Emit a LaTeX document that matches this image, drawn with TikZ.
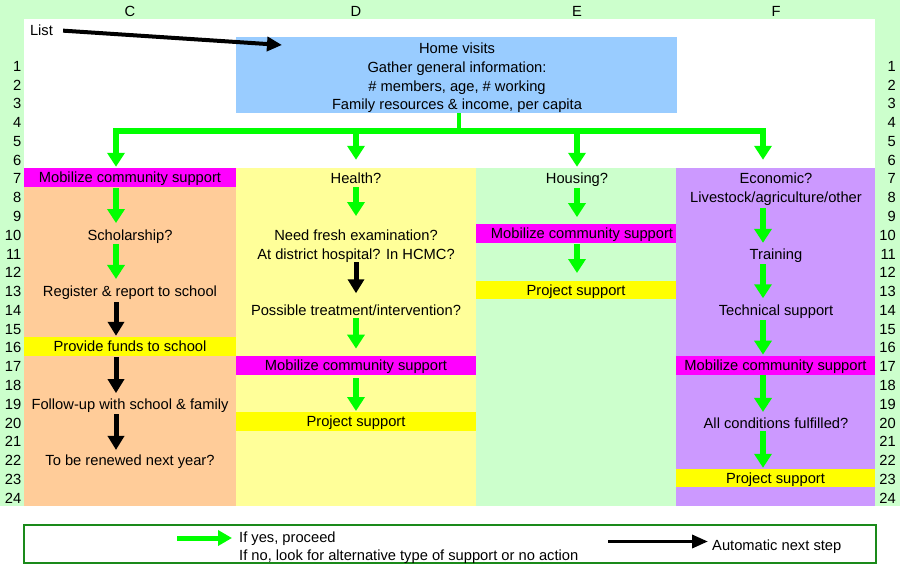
\documentclass[tikz,border=0pt]{standalone}
\usepackage{fontspec}
\setmainfont{Liberation Sans}
\usetikzlibrary{arrows.meta,calc}
\definecolor{bggreen}{HTML}{CCFFCC}
\definecolor{peach}{HTML}{FFCC99}
\definecolor{lyellow}{HTML}{FFFF99}
\definecolor{lpurple}{HTML}{CC99FF}
\definecolor{mag}{HTML}{FF00FF}
\definecolor{yel}{HTML}{FFFF00}
\definecolor{lblue}{HTML}{99CCFF}
\definecolor{agreen}{HTML}{00FF00}
\definecolor{bordergreen}{HTML}{1A8A1A}
\tikzset{
  txt/.style={inner sep=0pt, text height=12pt, text depth=1.5pt, font=\fontsize{14.7pt}{18.78pt}\selectfont},
  bar/.style={txt, minimum height=18.78pt},
  colbox/.style={inner sep=0pt, minimum height=338pt},
  garrow/.style={draw=agreen, line width=5.5pt, -{Triangle[width=17pt,length=14pt]}},
  karrow/.style={draw=black, line width=5pt, -{Triangle[width=16pt,length=14pt]}},
  gline/.style={draw=agreen, line width=5pt},
}
\begin{document}
\begin{tikzpicture}[x=1pt,y=-1pt]
\useasboundingbox (0,0) rectangle (900,565);
\fill[white] (0,0) rectangle (900,565);
\fill[bggreen] (0,0) rectangle (900,506);
\fill[white] (24,19) rectangle (875,168);

% column backgrounds
\node[colbox, fill=peach, minimum width=212pt] (colC) at (130,337) {};
\node[colbox, fill=lyellow, minimum width=240pt] (colD) at (356,337) {};
\node[colbox, fill=bggreen, minimum width=200pt] (colE) at (576,337) {};
\node[colbox, fill=lpurple, minimum width=199pt] (colF) at (775.5,337) {};

% column headers
\node[txt] (hC) at (130,11) {C};
\node[txt] (hD) at (356,11) {D};
\node[txt] (hE) at (577,11) {E};
\node[txt] (hF) at (776,11) {F};

% row labels
\foreach \n in {1,...,24}{
  \pgfmathsetmacro\yy{177.4+(\n-7)*18.78+1.3}
  \node[txt, anchor=east] (rl\n) at (21.5,\yy) {\n};
  \node[txt, anchor=east] (rr\n) at (896,\yy) {\n};
}

% home box
\node[fill=lblue, inner sep=0pt, minimum width=441pt, minimum height=76pt] (home) at (456.5,75) {};
\node[txt] (h1) at (457,48.7) {Home visits};
\node[txt] (h2) at (457,67.3) {Gather general information:};
\node[txt] (h3) at (457,86) {\# members, age, \# working};
\node[txt] (h4) at (457,104.7) {Family resources \& income, per capita};

% list
\node[txt] (list) at (41.5,30) {List};
\coordinate (listend) at (282,45);
\draw[draw=black, line width=4pt, -{Triangle[width=14pt,length=15pt]}, shorten <=10pt] (list.east) -- (listend);

% arrow x positions
\coordinate (xc) at (116,0);
\coordinate (xd) at (356,0);
\coordinate (xe) at (577,0);
\coordinate (xf) at (763,0);
\coordinate (hub) at (459,131);

% column C
\node[bar, fill=mag, minimum width=212pt] (cmob) at (130,177.4) {Mobilize community support};
\node[txt] (schol) at (130,235) {Scholarship?};
\node[txt] (reg) at (130,291.4) {Register \& report to school};
\node[bar, fill=yel, minimum width=212pt] (cfund) at (130,346.4) {Provide funds to school};
\node[txt] (follow) at (130,404.1) {Follow-up with school \& family};
\node[txt] (renew) at (130,460.4) {To be renewed next year?};

% column D
\node[txt] (dhealth) at (356,178.7) {Health?};
\node[txt] (dneed1) at (356,235) {Need fresh examination?};
\node[txt] (dneed2) at (356,253.8) {At district hospital? In HCMC?};
\node[txt] (dposs) at (356,310.2) {Possible treatment/intervention?};
\node[bar, fill=mag, minimum width=240pt] (dmob) at (356,365.2) {Mobilize community support};
\node[bar, fill=yel, minimum width=240pt] (dproj) at (356,421.6) {Project support};

% column E
\node[txt] (ehouse) at (577,178.7) {Housing?};
\node[bar, fill=mag, minimum width=200pt, label={[txt, xshift=6pt]center:Mobilize community support}] (emob) at (576,233.7) {};
\node[bar, fill=yel, minimum width=200pt] (eproj) at (576,290.1) {Project support};

% column F
\node[txt] (fecon1) at (776,178.7) {Economic?};
\node[txt] (fecon2) at (776,197.5) {Livestock/agriculture/other};
\node[txt] (ftrain) at (776,253.8) {Training};
\node[txt] (ftech) at (776,310.2) {Technical support};
\node[bar, fill=mag, minimum width=199pt] (fmob) at (775.5,365.2) {Mobilize community support};
\node[txt] (fcond) at (776,422.9) {All conditions fulfilled?};
\node[bar, fill=yel, minimum width=199pt] (fproj) at (775.5,477.9) {Project support};

% tree connectors
\draw[gline, line width=4.5pt] (home.south -| hub) -- (hub);
\draw[garrow, shorten >=1pt] (hub) -| (colC.north -| xc);
\draw[garrow, shorten >=8pt] (hub) -| (colD.north -| xd);
\draw[garrow, shorten >=1pt] (hub) -| (colE.north -| xe);
\draw[garrow, shorten >=8pt] (hub) -| (colF.north -| xf);

% column C arrows
\draw[garrow, shorten <=1pt, shorten >=5pt] (cmob.south -| xc) -- (schol.north -| xc);
\draw[garrow, shorten <=2pt, shorten >=5.5pt] (schol.south -| xc) -- (reg.north -| xc);
\draw[karrow, shorten <=4pt, shorten >=1pt] (reg.south -| xc) -- (cfund.north -| xc);
\draw[karrow, shorten <=1pt, shorten >=4pt] (cfund.south -| xc) -- (follow.north -| xc);
\draw[karrow, shorten <=3pt, shorten >=3.5pt] (follow.south -| xc) -- (renew.north -| xc);

% column D arrows
\draw[garrow, shorten <=1.5pt, shorten >=12pt] (dhealth.south -| xd) -- (dneed1.north -| xd);
\draw[karrow, shorten <=1.5pt, shorten >=10pt] (dneed2.south -| xd) -- (dposs.north -| xd);
\draw[garrow, shorten <=1pt, shorten >=7pt] (dposs.south -| xd) -- (dmob.north -| xd);
\draw[garrow, shorten <=3.4pt, shorten >=1pt] (dmob.south -| xd) -- (dproj.north -| xd);

% column E arrows
\draw[garrow, shorten <=2.5pt, shorten >=7pt] (ehouse.south -| xe) -- (emob.north -| xe);
\draw[garrow, shorten <=1pt, shorten >=7.5pt] (emob.south -| xe) -- (eproj.north -| xe);

% column F arrows
\draw[garrow, shorten <=3.5pt, shorten >=4pt] (fecon2.south -| xf) -- (ftrain.north -| xf);
\draw[garrow, shorten <=3.5pt, shorten >=5pt] (ftrain.south -| xf) -- (ftech.north -| xf);
\draw[garrow, shorten <=3pt, shorten >=1pt] (ftech.south -| xf) -- (fmob.north -| xf);
\draw[garrow, shorten >=4pt] (fmob.south -| xf) -- (fcond.north -| xf);
\draw[garrow, shorten <=1.4pt, shorten >=0.5pt] (fcond.south -| xf) -- (fproj.north -| xf);

% legend
\node[draw=bordergreen, line width=2pt, inner sep=0pt, minimum width=852pt, minimum height=38pt] (legend) at (450,544) {};
\node[txt, anchor=west] (yes) at (239,537.5) {If yes, proceed};
\node[txt, anchor=west] (no) at (239,555) {If no, look for alternative type of support or no action};
\node[txt, anchor=west] (auto) at (712,545) {Automatic next step};
\coordinate (lgs) at (177,538);
\coordinate (lks) at (608,541.5);
\draw[draw=agreen, line width=5pt, -{Triangle[width=15pt,length=14pt]}, shorten >=7pt] (lgs) -- (lgs -| yes.west);
\draw[draw=black, line width=3.5pt, -{Triangle[width=13pt,length=16pt]}, shorten >=4pt] (lks) -- (lks -| auto.west);
\end{tikzpicture}
\end{document}
